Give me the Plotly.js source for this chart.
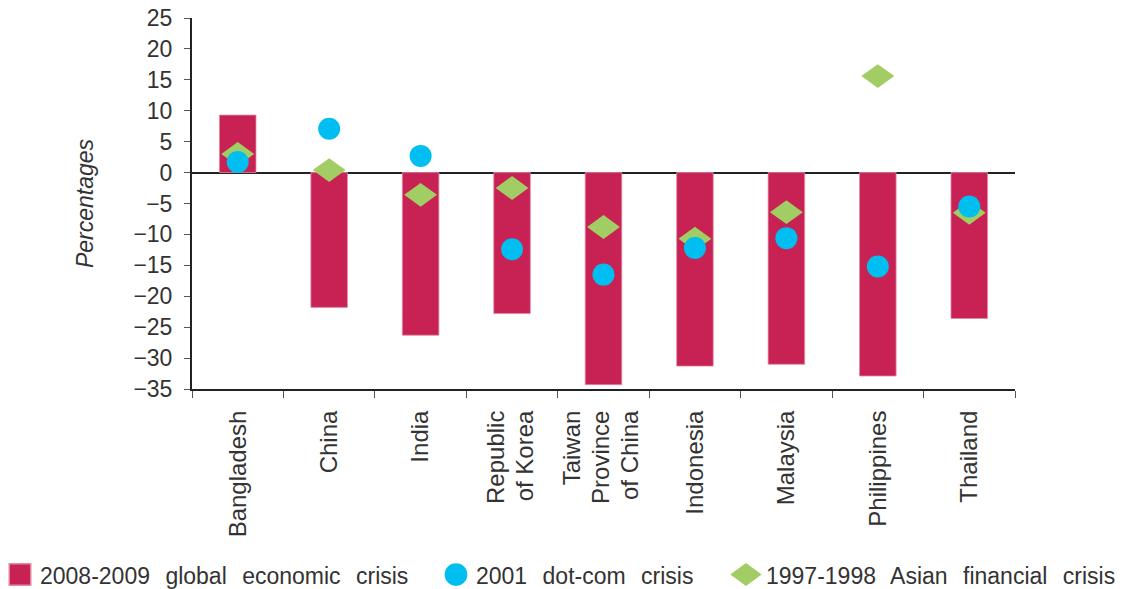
<!DOCTYPE html>
<html><head><meta charset="utf-8">
<script src="https://cdn.plot.ly/plotly-3.0.1.min.js"></script>
<style>
body{margin:0;background:#fff}
</style>
</head><body><div id="chart" style="width:1125px;height:589px"></div>
<script>
const categories = ["Bangladesh","China","India","Republic<br>of Korea","Taiwan<br>Province<br>of China","Indonesia","Malaysia","Philippines","Thailand"];
const crisis2008 = [9.3,-21.8,-26.3,-22.8,-34.3,-31.3,-31.0,-32.9,-23.6];
const dotcom2001 = [1.7,7.1,2.7,-12.4,-16.5,-12.2,-10.6,-15.2,-5.5];
const asian1997 = [3.0,0.4,-3.6,-2.5,-8.8,-10.7,-6.4,15.6,-6.5];
const seriesNames = ["2008-2009 global economic crisis","2001 dot-com crisis","1997-1998 Asian financial crisis"];
const yTicks = [25,20,15,10,5,0,-5,-10,-15,-20,-25,-30,-35];

const FONT = "Liberation Sans, Arial, sans-serif";
const traces = [
  {type:'bar', x:categories, y:crisis2008, name:seriesNames[0], width:0.4,
   marker:{color:'#C72253', line:{color:'#E58AA6', width:0.8}}, legend:'legend'},
  {type:'scatter', mode:'markers', x:categories, y:asian1997, name:seriesNames[2],
   marker:{symbol:'diamond-wide', size:23.5, color:'#A2CD64'}, legend:'legend3'},
  {type:'scatter', mode:'markers', x:categories, y:dotcom2001, name:seriesNames[1],
   marker:{symbol:'circle', size:22, color:'#00BFF0'}, legend:'legend2'}
];
function leg(x){
  return {orientation:'h', xref:'container', yref:'container', x:x, y:0.061,
    xanchor:'left', yanchor:'top', font:{size:23, color:'#333'}, itemwidth:30,
    bgcolor:'rgba(0,0,0,0)'};
}
const layout = {
  width:1125, height:589,
  margin:{l:192, r:110, t:18, b:200},
  paper_bgcolor:'#fff', plot_bgcolor:'#fff',
  font:{family:FONT, color:'#333'},
  showlegend:true,
  legend:leg(0.0), legend2:leg(436/1125), legend3:leg(726/1125),
  xaxis:{type:'category', tickangle:-90, ticks:'outside', tickson:'boundaries', ticklen:7,
    tickcolor:'#555', showline:true, linecolor:'#222', linewidth:2, showgrid:false,
    tickfont:{size:24, color:'#333'}, ticklabelstandoff:10, range:[-0.5,8.5]},
  yaxis:{range:[-35,25], tickvals:yTicks, ticks:'outside', ticklen:6, tickcolor:'#555',
    showline:true, linecolor:'#222', linewidth:2, showgrid:false,
    zeroline:true, zerolinecolor:'#222', zerolinewidth:2,
    tickfont:{size:23, color:'#333'}, ticklabelstandoff:7,
    title:{text:'Percentages', font:{size:23, style:'italic', color:'#333'}, standoff:33}}
};
function tweak(){
  // stretch the diamond markers vertically to the reference proportions
  const sc = document.querySelectorAll('.scatterlayer .trace');
  if(sc[0]) sc[0].querySelectorAll('path.point').forEach(p=>{
    const t = (p.getAttribute('transform')||'').replace(/ scale\([^)]*\)/,'');
    p.setAttribute('transform', t+' scale(1,1.45)');
  });
  const scales = {legend:'1.8,1.8', legend2:'1.42,1.42', legend3:'1.4,2.05'};
  Object.keys(scales).forEach(k=>{
    const g = document.querySelector('.infolayer g.'+k);
    if(!g) return;
    g.querySelectorAll('.legendpoints path').forEach(p=>{
      const t = (p.getAttribute('transform')||'').replace(/ scale\([^)]*\)/,'');
      p.setAttribute('transform', t+' scale('+scales[k]+')');
    });
    g.querySelectorAll('text').forEach(t=>{ t.style.wordSpacing='9px'; });
    g.querySelectorAll('[clip-path]').forEach(e=>e.removeAttribute('clip-path'));
  });
  // tighter line spacing for multi-line category labels
  document.querySelectorAll('.xtick text tspan.line').forEach(ts=>{
    if(ts.dataset.done) return;
    const dy = ts.getAttribute('dy');
    if(dy && /em$/.test(dy)){
      const v = parseFloat(dy);
      ts.setAttribute('dy', (v*1.2/1.3).toFixed(3)+'em');
      ts.dataset.done = '1';
    }
  });
}
Plotly.newPlot('chart', traces, layout, {displayModeBar:false, staticPlot:true}).then(tweak);
</script></body></html>
